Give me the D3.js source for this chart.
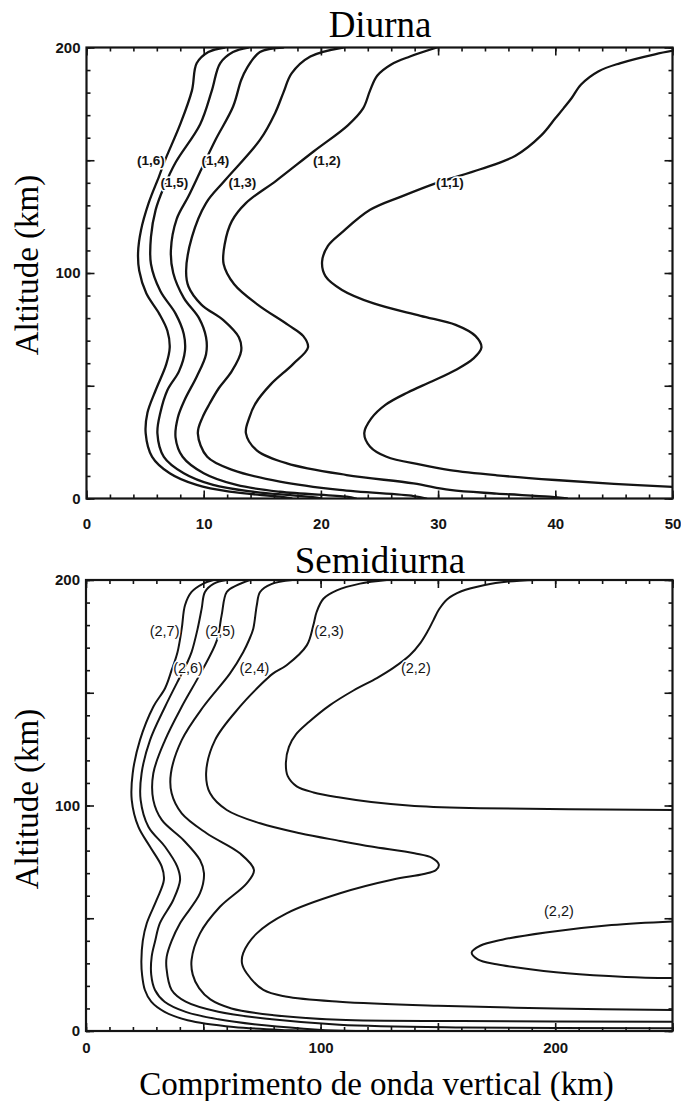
<!DOCTYPE html>
<html><head><meta charset="utf-8">
<script src="https://cdn.jsdelivr.net/npm/d3@7"></script>
<style>
body{margin:0;background:#fff;}
svg{display:block;}
</style></head><body>
<svg id="c" width="681" height="1101"></svg>
<script>
// ---------- Diurnal (top panel) curves: [vertical wavelength km, altitude km] ----------
const diurnal11 = [[50,5.2],[45,6.5],[40,8.2],[35,10.3],[31,12.6],[28.5,15],[25.6,18.5],[24.2,23],[23.7,29],[24.3,35.5],[25.5,41.5],[27.4,47],[29.5,52],[31.5,57],[33,62],[33.7,67],[33.2,72],[31.5,77],[28.5,81],[24.5,86.5],[21.8,92.5],[20.4,98.5],[20.1,105],[20.6,112],[21.8,118],[24.2,128],[26.9,134],[29.9,140],[33.6,146],[36.6,152],[38.8,161],[40,168.6],[40.7,173],[41.4,177.6],[42.2,183.6],[43.7,189.5],[45.5,193],[48.5,197],[50.5,199]];
const diurnal12 = [[41,0],[39.5,0.8],[35,2.2],[31,3.8],[27.9,6.7],[22.2,10.4],[17.1,15.6],[14.5,21.5],[13.6,29],[13.9,36],[14.4,42],[15.7,50.5],[17.6,59.5],[18.9,67],[18.5,72],[17.2,77],[14.6,86],[12.6,95],[11.7,104],[11.8,113],[12.4,123],[13.6,131],[16.2,141],[19.4,154],[22.3,165.5],[23.6,173],[24.2,181],[24.8,187.5],[26,192.5],[27.6,196],[29.9,200]];
const diurnal13 = [[29,0],[27.9,1.1],[21.6,3.8],[16.5,7.5],[12.5,12.6],[10.3,18.5],[9.5,28.9],[9.9,36],[10.5,42],[11.3,49],[12.4,56.5],[13.2,65.5],[13,71.5],[11.7,79],[9.8,86],[8.7,94],[8.5,101],[9,116],[10.2,131],[11.8,141],[14.8,159],[16.1,171],[16.8,180],[17.5,188.5],[19.1,196],[21.9,200]];
const diurnal14 = [[23,0],[22.2,0.8],[16.5,3],[12.8,6],[10,11.2],[8.2,18.5],[7.6,27],[7.8,36],[8.4,44],[9.4,54],[10.2,64],[10.2,71.5],[9.6,80],[8.3,89],[7.4,100],[7.2,110],[7.7,124],[8.7,134],[9.8,146],[11,159],[12.5,173.7],[13.2,185.6],[13.7,191],[14.8,198],[16.8,200]];
const diurnal15 = [[20,0],[19.3,0.6],[14.2,3],[10.8,6],[8.3,11.2],[6.6,18.5],[6.05,28.9],[6.3,38],[6.9,48],[7.9,56.5],[8.4,65.5],[8.3,73],[7.6,82],[6.3,92],[5.5,104],[5.5,116],[5.9,128],[6.6,138],[7.6,149],[9.7,166],[10.7,181],[11.4,193],[12.5,198],[13.8,200]];
const diurnal16 = [[17.5,0],[16.5,0.8],[12.2,3],[9.4,6],[7.1,11.2],[5.6,18.5],[5.05,28.9],[5.2,38],[5.9,48],[6.8,59.5],[7.1,67],[6.9,74.4],[6.2,82],[5.1,91],[4.5,101],[4.4,109],[4.65,119],[5.3,131],[6.2,143],[6.7,150],[8,166],[9,181],[9.4,193],[10.4,198],[11.8,200]];
const diurnalLabels = [["(1,6)",5.5,150],["(1,5)",7.5,140],["(1,4)",11,150],["(1,3)",13.3,140],["(1,2)",20.5,150],["(1,1)",31,140]];

// ---------- Semidiurnal (bottom panel) curves ----------
const semi22upper = [[250,98],[168,98.8],[140,99.8],[121.6,101.5],[108.3,103.5],[97,105.8],[89.8,108.5],[86,113],[85.2,119],[86.5,126],[89.5,131.5],[95,137],[104,144.5],[114,151],[124,156.5],[131,161],[138,166.6],[142.5,172],[145.5,177],[148,182],[150.5,187],[154,191.5],[160,195],[170,197.8],[180,199.3],[192,200]];
const semi22lower = [[250,48.6],[224,47],[196,43.7],[177.4,40.5],[168,37.8],[164.4,34.8],[167,31.8],[175,29.6],[183,28.3],[205,25.6],[230,24],[250,23.5]];
const semi23 = [[250,9.3],[200,10],[150,11.2],[108,13],[85,15.3],[75.6,18.2],[68.5,25.6],[66.5,30],[67,34.5],[72.8,43.3],[85.5,52.2],[108.3,61.1],[130.9,67.2],[144,69.6],[149.2,71.4],[150.4,73.8],[147.5,76.8],[140,78.8],[121.6,81.8],[108.3,84.3],[91.2,87.7],[74.2,92.1],[60,98],[52.9,105.4],[51.2,114.3],[55,129],[65.6,143.8],[74.2,153.3],[79.8,158.6],[85.5,162.2],[94.1,171],[96.9,179.9],[98.3,185.8],[101.2,191.7],[106.9,195.4],[116.8,198.4],[128.2,200]];
const semi24 = [[250,4.1],[160,4.4],[108,5],[80,7],[62,10],[53,14],[48.2,19],[45.5,25],[45,31.5],[48.6,43.3],[57.1,55.1],[68.5,65.5],[71.6,71.4],[65.6,78.8],[51.4,87.7],[40.8,96.5],[36.5,105.4],[36.2,114.3],[40.8,129],[50,143.8],[61.4,158.6],[67,168],[69.5,173.4],[71.3,178.4],[72.8,188.8],[74.2,194.7],[79,198.2],[88,200]];
const semi25 = [[250,1.2],[161,1.6],[108,2.8],[79.2,5.2],[56.4,8.5],[42.5,13],[36.5,18.2],[34.3,27.9],[34.4,33],[36.5,40],[40.1,47.8],[48.6,61.1],[50.3,69.9],[48.6,75.8],[41.5,84.7],[32.3,93.6],[28.7,102.4],[28.7,114.3],[33.7,129],[40.8,143.8],[48.9,158.8],[55.7,173],[57.8,184.3],[60,194.7],[64.2,197.6],[69.9,200]];
const semi26 = [[115,0],[98.9,0.6],[76,2.5],[56.4,5.2],[42.5,8.5],[33.5,13],[29.4,18.2],[27.8,25],[28,33],[29.5,40],[31.5,47.8],[37.2,58.1],[40.1,67],[38.9,72.9],[33.7,81.7],[26.6,90.6],[23.3,102.4],[23.7,114.3],[27.3,129],[33.7,143.8],[40.1,157.1],[43,163],[45,168],[47.5,178],[49.3,187.3],[50.7,194.7],[54.5,198.4],[60,200]];
const semi27 = [[95,0],[87.4,0.3],[62.9,1.8],[43.3,4.8],[33.5,8.5],[27.8,13],[25.1,18.2],[23.9,25],[23.6,31],[24.2,40],[25.9,47.8],[30.1,58.1],[33.2,67],[32.3,72.9],[27.3,81.7],[22.3,90.6],[19.5,102.4],[19.9,114.3],[23,129],[28.7,143.8],[33.7,152],[36.5,160],[39,168],[40.8,178.4],[42.2,188.8],[45,194.7],[50,198.4],[54.3,200]];
const semiLabels = [["(2,7)",33.5,177.5],["(2,5)",57.2,177.5],["(2,3)",103.6,177.5],["(2,6)",43.5,161],["(2,4)",71.8,161],["(2,2)",140.6,161],["(2,2)",201.6,53.4]];

// ---------- Axes ----------
const altDomain = [0, 200];
const altLabels = [0, 100, 200];
const diurnalDomain = [0, 50];
const diurnalTickLabels = [0, 10, 20, 30, 40, 50];
const semiDomain = [0, 250];
const semiTickLabels = [0, 100, 200];

const svg = d3.select("#c");
const defs = svg.append("defs");
const INK = "#141414";

function panel(o) {
  const x = d3.scaleLinear().domain(o.xDomain).range([o.left, o.right]);
  const y = d3.scaleLinear().domain(altDomain).range([o.bottom, o.top]);
  const g = svg.append("g");

  defs.append("clipPath").attr("id", "clip-" + o.name)
    .append("rect").attr("x", o.left).attr("y", o.top)
    .attr("width", o.right - o.left).attr("height", o.bottom - o.top);

  const line = d3.line().x(d => x(d[0])).y(d => y(d[1]))
    .curve(d3.curveCatmullRom.alpha(0.5));
  const cg = g.append("g").attr("clip-path", `url(#clip-${o.name})`);
  o.curves.forEach(c => cg.append("path").attr("d", line(c))
    .attr("fill", "none").attr("stroke", INK).attr("stroke-width", o.lw)
    .attr("stroke-linejoin", "round").attr("stroke-linecap", "round"));

  // curve labels with white halo that interrupts the lines
  o.labels.forEach(l => g.append("text")
    .attr("x", x(l[1])).attr("y", y(l[2]))
    .attr("text-anchor", "middle").attr("dominant-baseline", "central")
    .attr("font-family", "'Liberation Sans', Arial, sans-serif")
    .attr("font-size", o.labelSize).attr("font-weight", o.labelWeight)
    .attr("fill", INK).attr("stroke", "#fff").attr("stroke-width", 3)
    .attr("paint-order", "stroke").text(l[0]));

  const xMinor = d3.range(o.xDomain[0], o.xDomain[1] + 1e-9, o.xMinor);
  const xMajor = d3.range(o.xDomain[0], o.xDomain[1] + 1e-9, o.xMajor);
  const yMinor = d3.range(0, 200.001, 10);
  const yMajor = d3.range(0, 200.001, 50);
  const xLab = new Set(o.xLabels);
  const yLab = new Set(altLabels);

  const ax = g.append("g");
  function add(axis, tr) {
    const a = ax.append("g").attr("transform", tr).call(axis);
    a.select(".domain").remove();
    a.selectAll("line").attr("stroke", INK).attr("stroke-width", 1.6);
    return a;
  }
  // minor ticks, inside, all four sides
  add(d3.axisBottom(x).tickValues(xMinor).tickSize(-4).tickSizeOuter(0).tickFormat(""), `translate(0,${o.bottom})`);
  add(d3.axisTop(x).tickValues(xMinor).tickSize(-4).tickSizeOuter(0).tickFormat(""), `translate(0,${o.top})`);
  add(d3.axisLeft(y).tickValues(yMinor).tickSize(-4).tickSizeOuter(0).tickFormat(""), `translate(${o.left},0)`);
  add(d3.axisRight(y).tickValues(yMinor).tickSize(-4).tickSizeOuter(0).tickFormat(""), `translate(${o.right},0)`);
  // major ticks
  const bx = add(d3.axisBottom(x).tickValues(xMajor).tickSize(-8).tickSizeOuter(0).tickPadding(o.xPad)
    .tickFormat(d => xLab.has(d) ? d3.format("d")(d) : ""), `translate(0,${o.bottom})`);
  add(d3.axisTop(x).tickValues(xMajor).tickSize(-8).tickSizeOuter(0).tickFormat(""), `translate(0,${o.top})`);
  const ly = add(d3.axisLeft(y).tickValues(yMajor).tickSize(-8).tickSizeOuter(0).tickPadding(6)
    .tickFormat(d => yLab.has(d) ? d3.format("d")(d) : ""), `translate(${o.left},0)`);
  add(d3.axisRight(y).tickValues(yMajor).tickSize(-8).tickSizeOuter(0).tickFormat(""), `translate(${o.right},0)`);
  [bx, ly].forEach(a => a.selectAll("text")
    .attr("font-family", "'Liberation Sans', Arial, sans-serif")
    .attr("font-size", 15).attr("font-weight", "bold").attr("fill", INK));

  // frame
  g.append("rect").attr("x", o.left).attr("y", o.top)
    .attr("width", o.right - o.left).attr("height", o.bottom - o.top)
    .attr("fill", "none").attr("stroke", INK).attr("stroke-width", 2.2);

  // title
  svg.append("text").attr("x", 380).attr("y", o.titleY)
    .attr("text-anchor", "middle")
    .attr("font-family", "'Liberation Serif', 'Times New Roman', serif")
    .attr("font-size", 37).attr("fill", "#000").text(o.title);
  // y title
  svg.append("text").attr("transform", `translate(38,${o.yTitleY}) rotate(-90)`)
    .attr("text-anchor", "middle")
    .attr("font-family", "'Liberation Serif', 'Times New Roman', serif")
    .attr("font-size", 33).attr("fill", "#000").text("Altitude (km)");
}

panel({
  name: "diurna", title: "Diurna", titleY: 37, yTitleY: 265,
  left: 86.5, right: 672.5, top: 47.5, bottom: 498.5,
  xDomain: diurnalDomain, xMinor: 2, xMajor: 10, xLabels: diurnalTickLabels, xPad: 20,
  curves: [diurnal11, diurnal12, diurnal13, diurnal14, diurnal15, diurnal16],
  labels: diurnalLabels, labelSize: 13.5, labelWeight: "bold", lw: 2.3
});

panel({
  name: "semi", title: "Semidiurna", titleY: 573, yTitleY: 799,
  left: 86, right: 672.5, top: 580, bottom: 1031,
  xDomain: semiDomain, xMinor: 10, xMajor: 50, xLabels: semiTickLabels, xPad: 11,
  curves: [semi22upper, semi22lower, semi23, semi24, semi25, semi26, semi27],
  labels: semiLabels, labelSize: 14.5, labelWeight: "normal", lw: 2
});

svg.append("text").attr("x", 376.5).attr("y", 1095)
  .attr("text-anchor", "middle")
  .attr("font-family", "'Liberation Serif', 'Times New Roman', serif")
  .attr("font-size", 33).attr("fill", "#000").text("Comprimento de onda vertical (km)");
</script>
</body></html>
